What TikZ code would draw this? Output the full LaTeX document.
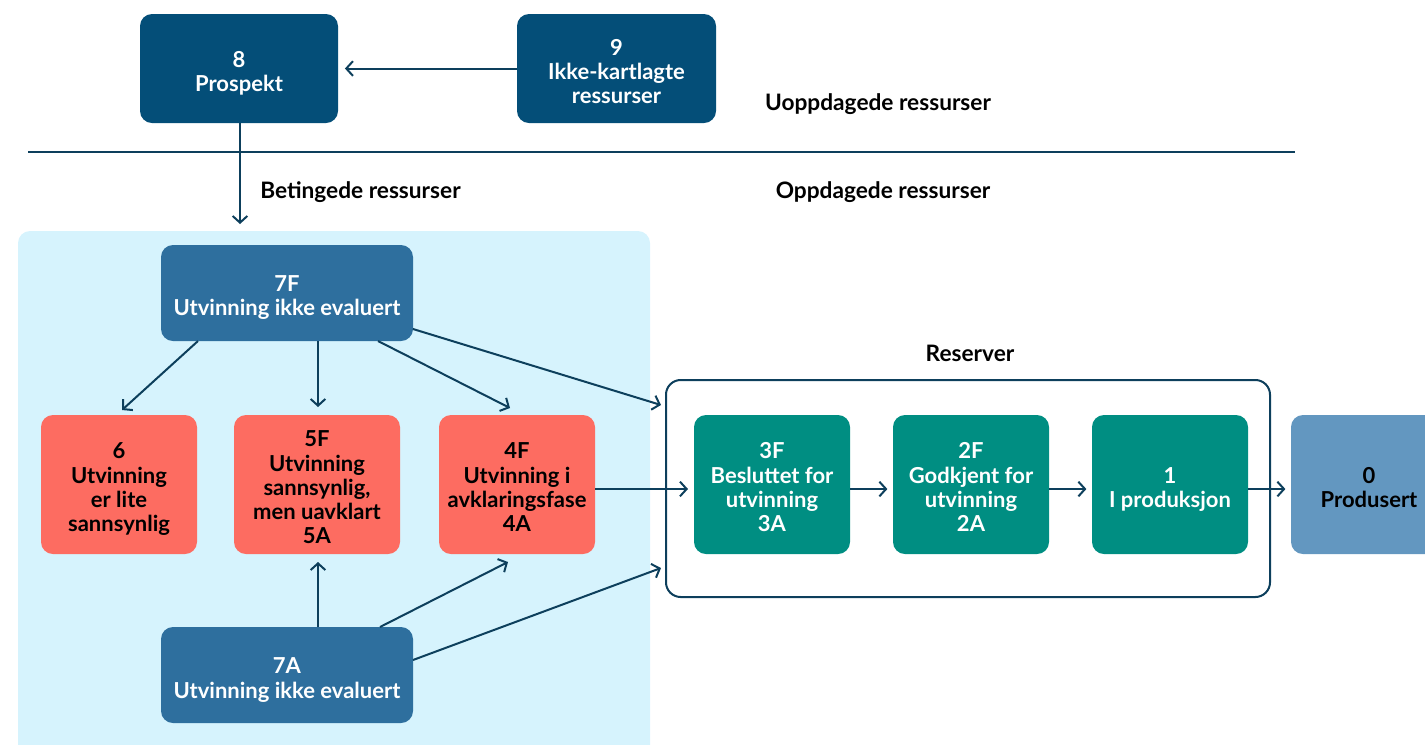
\documentclass[tikz,border=0pt]{standalone}
\usepackage{fontspec}
\setmainfont{Lato}
\usetikzlibrary{arrows.meta}
\definecolor{darkblue}{HTML}{044E78}
\definecolor{midblue}{HTML}{2E6F9E}
\definecolor{salmon}{HTML}{FD6C61}
\definecolor{teal}{HTML}{008E82}
\definecolor{lightbox}{HTML}{6397C0}
\definecolor{lightbg}{HTML}{D6F3FD}
\definecolor{linec}{HTML}{0D3F5C}
\newcommand{\boxtext}[1]{\raisebox{-4.5pt}[\height][\depth]{\begin{tabular}{@{}c@{}}#1\end{tabular}}}
\tikzset{
  box/.style={rounded corners=9pt, inner sep=0pt, align=center,
    font=\bfseries\fontsize{16.5}{18.2}\selectfont},
  smallbox/.style={box, minimum width=117pt, minimum height=104.25pt},
  conn/.style={draw=linec, line width=1.5pt, -{Straight Barb[length=5pt,width=11pt]}},
  label/.style={font=\bfseries\fontsize{17}{20}\selectfont, text=black, inner sep=0pt}
}
\begin{document}
\begin{tikzpicture}[x=0.75pt,y=-0.75pt]
\useasboundingbox (0,0) rectangle (1425,744);
\clip (0,0) rectangle (1425,744);
% light background
\fill[lightbg, rounded corners=9pt] (18,231) rectangle (650,770);
% separator
\draw[linec, line width=1.5pt] (28,152) -- (1295,152);
% top nodes
\node[box, fill=darkblue, text=white, minimum width=148.5pt, minimum height=81.75pt] (n8) at (239,68.5) {\boxtext{8\\Prospekt}};
\node[box, fill=darkblue, text=white, minimum width=149.25pt, minimum height=81.75pt] (n9) at (616.5,68.5) {\boxtext{9\\Ikke-kartlagte\\ressurser}};
% labels
\node[label] (uopp) at (878,104.5) {Uoppdagede ressurser};
\node[label] (opp) at (883,192.5) {Oppdagede ressurser};
\node[label, anchor=west] (bet) at (260,192.5) {Betingede ressurser};
\node[label] (resl) at (970,353.5) {Reserver};
% 7F / 7A
\node[box, fill=midblue, text=white, minimum width=189pt, minimum height=72pt] (n7F) at (287,293) {\boxtext{7F\\Utvinning ikke evaluert}};
\node[box, fill=midblue, text=white, minimum width=189pt, minimum height=72pt] (n7A) at (287,675) {\boxtext{7A\\Utvinning ikke evaluert}};
% salmon
\node[smallbox, fill=salmon, text=black] (n6) at (119,484.5) {\boxtext{6\\Utvinning\\er lite\\sannsynlig}};
\node[smallbox, fill=salmon, text=black, minimum width=124.5pt] (n5F) at (317,484.5) {\boxtext{5F\\Utvinning\\sannsynlig,\\men uavklart\\5A}};
\node[smallbox, fill=salmon, text=black] (n4F) at (517,484.5) {\boxtext{4F\\Utvinning i\\avklaringsfase\\4A}};
% reserves frame
\node[draw=linec, line width=1.5pt, rounded corners=11pt, minimum width=453pt, minimum height=162.75pt, inner sep=0pt] (res) at (968,488.5) {};
\node[smallbox, fill=teal, text=white] (n3F) at (772,484.5) {\boxtext{3F\\Besluttet for\\utvinning\\3A}};
\node[smallbox, fill=teal, text=white] (n2F) at (971,484.5) {\boxtext{2F\\Godkjent for\\utvinning\\2A}};
\node[smallbox, fill=teal, text=white] (n1) at (1170,484.5) {\boxtext{1\\I produksjon}};
\node[smallbox, fill=lightbox, text=black] (n0) at (1369,484.5) {\boxtext{0\\Produsert}};
% coordinates
\coordinate (t8) at (240,224);
\coordinate (s7F6) at (198,341);
\coordinate (t6) at (122,410);
\coordinate (s7F5) at (318,341);
\coordinate (t5top) at (318,407);
\coordinate (s7F4) at (378,341);
\coordinate (t4top) at (510,408);
\coordinate (s7Fr) at (413,329);
\coordinate (tr1) at (661,405);
\coordinate (s4) at (595,489);
\coordinate (t3) at (688,489);
\coordinate (s7A5) at (318,627);
\coordinate (t5bot) at (318,562);
\coordinate (s7A4) at (380,627);
\coordinate (t4bot) at (508,562);
\coordinate (s7Ar) at (413,660);
\coordinate (tr2) at (661,568);
% connectors
\draw[conn] (n9.west) -- ([xshift=5pt]n8.east);
\draw[conn] (n8.south -| t8) -- (t8);
\draw[conn] (s7F6) -- (t6);
\draw[conn] (s7F5) -- (t5top);
\draw[conn] (s7F4) -- (t4top);
\draw[conn] (s7Fr) -- (tr1);
\draw[conn] (s4) -- (t3);
\draw[conn] (s7A5) -- (t5bot);
\draw[conn] (s7A4) -- (t4bot);
\draw[conn] (s7Ar) -- (tr2);
\draw[conn] ([yshift=-3.4pt]n3F.east) -- ([xshift=-4pt,yshift=-3.4pt]n2F.west);
\draw[conn] ([yshift=-3.4pt]n2F.east) -- ([xshift=-4pt,yshift=-3.4pt]n1.west);
\draw[conn] ([yshift=-3.4pt]n1.east) -- ([xshift=-4pt,yshift=-3.4pt]n0.west);
\end{tikzpicture}
\end{document}
